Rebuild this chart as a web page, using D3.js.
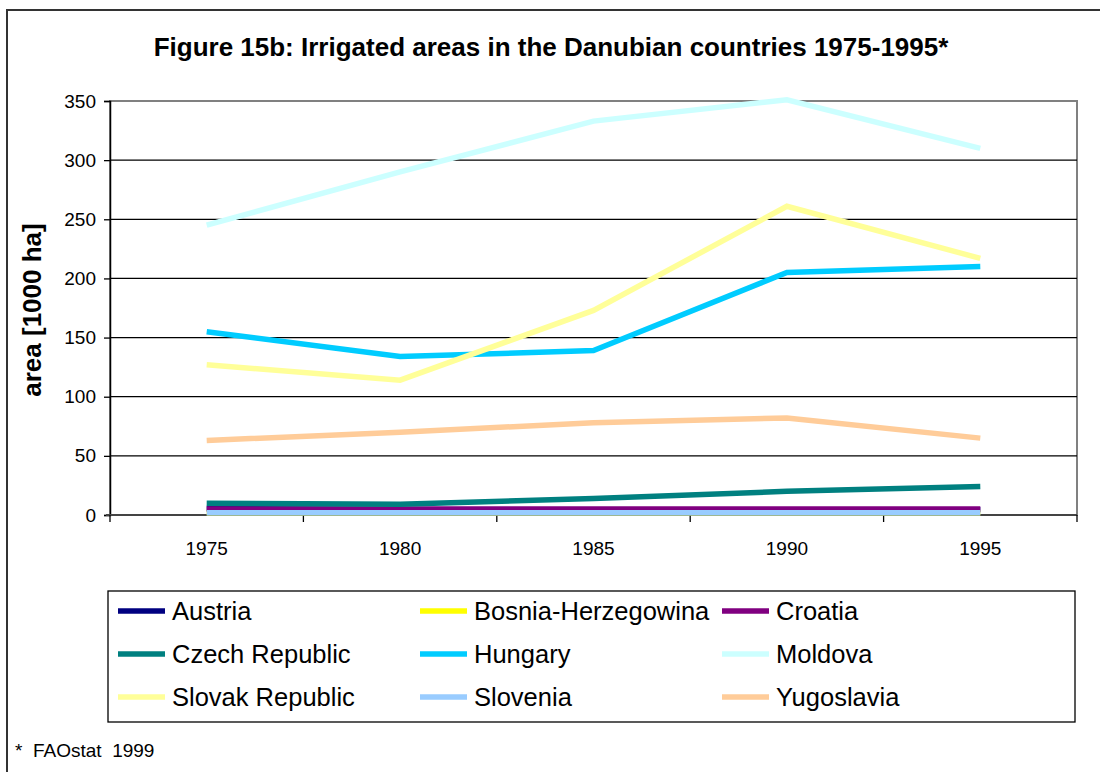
<!DOCTYPE html>
<html>
<head>
<meta charset="utf-8">
<script src="https://cdn.jsdelivr.net/npm/d3@7"></script>
<style>
  html, body { margin: 0; padding: 0; background: #fff; }
  svg { display: block; font-family: "Liberation Sans", Arial, sans-serif; }
</style>
</head>
<body>
<svg id="chart" width="1100" height="772"></svg>
<script>
// Irrigated areas (1000 ha), FAOstat 1999
const years = ["1975", "1980", "1985", "1990", "1995"];
const yTicks = [0, 50, 100, 150, 200, 250, 300, 350];

const countries = ["Austria", "Bosnia-Herzegowina", "Croatia", "Czech Republic",
  "Hungary", "Moldova", "Slovak Republic", "Slovenia", "Yugoslavia"];
const colors = ["#000080", "#FFFF00", "#800080", "#008080",
  "#00CCFF", "#CCFFFF", "#FFFF99", "#99CCFF", "#FFCC99"];

const austria    = [5.5, 4.5, 4.5, 4.5, 4.5];
const bosnia     = [2, 2, 2, 2, 2];
const croatia    = [5, 5, 5, 5, 5];
const czech      = [10, 9, 14, 20, 24];
const hungary    = [155, 134, 139, 205, 210];
const moldova    = [245, 290, 333, 351, 310];
const slovak     = [127, 114, 173, 261, 217];
const slovenia   = [2, 2, 2, 2, 2];
const yugoslavia = [63, 70, 78, 82, 65];

const seriesValues = [austria, bosnia, croatia, czech, hungary, moldova, slovak, slovenia, yugoslavia];

const svg = d3.select("#chart");

// outer frame
svg.append("rect")
  .attr("x", 7).attr("y", 10).attr("width", 1100).attr("height", 780)
  .attr("fill", "#fff").attr("stroke", "#333").attr("stroke-width", 2);

// title
svg.append("text")
  .attr("x", 551).attr("y", 56)
  .attr("text-anchor", "middle")
  .attr("font-weight", "bold").attr("font-size", 26)
  .text("Figure 15b: Irrigated areas in the Danubian countries 1975-1995*");

const plot = { left: 110, right: 1077, top: 101, bottom: 515 };

const x = d3.scaleBand().domain(years).range([plot.left, plot.right]);
const y = d3.scaleLinear().domain([0, 350]).range([plot.bottom, plot.top]);

// plot area border
svg.append("rect")
  .attr("x", plot.left).attr("y", plot.top)
  .attr("width", plot.right - plot.left).attr("height", plot.bottom - plot.top)
  .attr("fill", "none").attr("stroke", "#808080").attr("stroke-width", 2);

// horizontal gridlines
svg.append("g").selectAll("line")
  .data(yTicks.filter(d => d > 0 && d < 350))
  .join("line")
  .attr("x1", plot.left).attr("x2", plot.right)
  .attr("y1", d => y(d)).attr("y2", d => y(d))
  .attr("stroke", "#000").attr("stroke-width", 1.3);

// y axis
const yAxis = svg.append("g")
  .attr("transform", `translate(${plot.left},0)`)
  .call(d3.axisLeft(y).tickValues(yTicks).tickSize(6).tickPadding(8));
yAxis.select(".domain").attr("stroke", "#000").attr("stroke-width", 1.5);
yAxis.selectAll(".tick line").attr("stroke", "#000").attr("stroke-width", 1.3);
yAxis.selectAll(".tick text")
  .attr("font-size", 19).attr("font-family", "Liberation Sans, Arial, sans-serif")
  .attr("fill", "#000");

// x axis: ticks sit between categories
const xAxisG = svg.append("g").attr("transform", `translate(0,${plot.bottom})`);
xAxisG.append("line")
  .attr("x1", plot.left - 4).attr("x2", plot.right)
  .attr("y1", 0).attr("y2", 0)
  .attr("stroke", "#444").attr("stroke-width", 2);
const boundaries = years.map(d => x(d)).concat([x(years[years.length - 1]) + x.bandwidth()]);
xAxisG.selectAll("line.tick")
  .data(boundaries)
  .join("line").attr("class", "tick")
  .attr("x1", d => d).attr("x2", d => d)
  .attr("y1", 0).attr("y2", 7)
  .attr("stroke", "#000").attr("stroke-width", 1.3);
xAxisG.selectAll("text")
  .data(years)
  .join("text")
  .attr("x", d => x(d) + x.bandwidth() / 2)
  .attr("y", 40)
  .attr("text-anchor", "middle")
  .attr("font-size", 19)
  .text(d => d);

// y axis title
svg.append("text")
  .attr("transform", `translate(41,${(plot.top + plot.bottom) / 2 + 2}) rotate(-90)`)
  .attr("text-anchor", "middle")
  .attr("font-weight", "bold").attr("font-size", 26)
  .text("area [1000 ha]");

// series lines
const line = d3.line()
  .x((d, i) => x(years[i]) + x.bandwidth() / 2)
  .y(d => y(d));

svg.append("g").selectAll("path")
  .data(seriesValues)
  .join("path")
  .attr("d", d => line(d))
  .attr("fill", "none")
  .attr("stroke", (d, i) => colors[i])
  .attr("stroke-width", 5.5)
  .attr("stroke-linejoin", "miter");

// legend
const legend = svg.append("g");
legend.append("rect")
  .attr("x", 108).attr("y", 591).attr("width", 967).attr("height", 131)
  .attr("fill", "#fff").attr("stroke", "#000").attr("stroke-width", 1.3);

const colX = [118, 420, 722];
const rowY = [611, 654, 697];
const items = legend.selectAll("g.item")
  .data(countries)
  .join("g").attr("class", "item")
  .attr("transform", (d, i) => `translate(${colX[i % 3]},${rowY[Math.floor(i / 3)]})`);
items.append("line")
  .attr("x1", 0).attr("x2", 47).attr("y1", 0).attr("y2", 0)
  .attr("stroke", (d, i) => colors[i]).attr("stroke-width", 5.5);
items.append("text")
  .attr("x", 54).attr("y", 9)
  .attr("font-size", 25.5)
  .text(d => d);

// source note
svg.append("text")
  .attr("x", 15).attr("y", 757)
  .attr("font-size", 19)
  .attr("xml:space", "preserve")
  .text("*  FAOstat  1999");
</script>
</body>
</html>
